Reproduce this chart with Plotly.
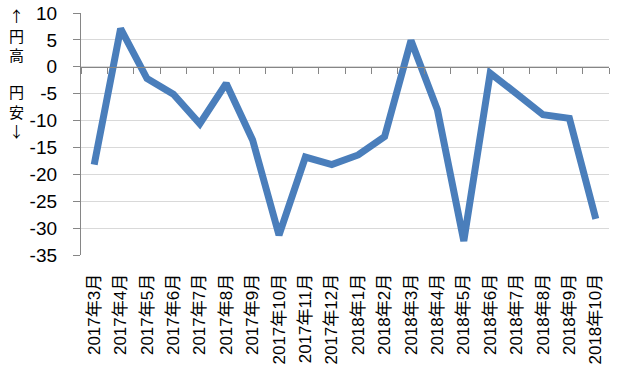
import plotly.graph_objects as go

categories = ["2017年3月", "2017年4月", "2017年5月", "2017年6月", "2017年7月",
              "2017年8月", "2017年9月", "2017年10月", "2017年11月", "2017年12月",
              "2018年1月", "2018年2月", "2018年3月", "2018年4月", "2018年5月",
              "2018年6月", "2018年7月", "2018年8月", "2018年9月", "2018年10月"]
values = [-18.2, 7.1, -2.2, -5.1, -10.6, -3.1, -13.6, -31.3, -16.8, -18.2,
          -16.4, -13.0, 4.9, -8.0, -32.4, -1.2, -5.0, -8.9, -9.6, -28.3]
y_ticks = [10, 5, 0, -5, -10, -15, -20, -25, -30, -35]
y_range = [-35, 10]
title_up = "↑<br>円<br>高"
title_down = "円<br>安<br>↓"

FONT = "Liberation Sans, Noto Sans CJK JP, sans-serif"
BLUE = "#4a7ebb"
GRID = "#d9d9d9"
AXIS = "#868686"

W, H = 620, 365
ML, MR, MT, MB = 81, 11, 13, 110
PH = H - MT - MB

fig = go.Figure()
fig.add_trace(go.Scatter(x=categories, y=values, mode="lines",
                         line=dict(color=BLUE, width=7), xaxis="x", yaxis="y",
                         hoverinfo="skip", showlegend=False))
fig.add_trace(go.Scatter(x=categories, y=values, mode="lines",
                         line=dict(color="rgba(0,0,0,0)", width=0), xaxis="x2", yaxis="y",
                         hoverinfo="skip", showlegend=False))

zero_pos = (0 - y_range[0]) / (y_range[1] - y_range[0])

fig.update_layout(
    width=W, height=H,
    margin=dict(l=ML, r=MR, t=MT, b=MB, autoexpand=False),
    paper_bgcolor="white", plot_bgcolor="white",
    font=dict(family=FONT, color="black"),
    xaxis=dict(type="category", anchor="free", position=zero_pos, automargin=False,
               showline=True, linecolor=AXIS, linewidth=1.3,
               ticks="outside", tickson="boundaries", ticklen=6, tickcolor=AXIS, tickwidth=1,
               showticklabels=False, showgrid=False, zeroline=False,
               range=[-0.5, len(categories) - 0.5]),
    xaxis2=dict(type="category", overlaying="x", matches="x", side="bottom", anchor="y",
                automargin=False, showline=False, showgrid=False, zeroline=False,
                ticks="outside", ticklen=11, tickcolor="rgba(0,0,0,0)",
                tickangle=-90, tickfont=dict(size=17, family=FONT, color="black")),
    yaxis=dict(range=y_range, tickvals=y_ticks, ticktext=[str(v) for v in y_ticks],
               automargin=False, showline=True, linecolor=AXIS, linewidth=1.3,
               ticks="outside", ticklen=7, tickcolor=AXIS, ticklabelstandoff=12,
               showgrid=True, gridcolor=GRID, gridwidth=1.3, zeroline=False,
               tickfont=dict(size=19, family=FONT, color="black")),
)

def px_to_paper_x(px):
    return (px - ML) / (W - ML - MR)

def px_to_paper_y(py):
    return (H - MB - py) / PH

for txt, cy in [(title_up, 35), (title_down, 111)]:
    fig.add_annotation(text=txt, x=px_to_paper_x(16), xref="paper",
                       y=px_to_paper_y(cy), yref="paper",
                       showarrow=False, font=dict(size=15, family="Noto Sans CJK JP", color="black"),
                       xanchor="center", yanchor="middle")

fig.write_html("out.html")
